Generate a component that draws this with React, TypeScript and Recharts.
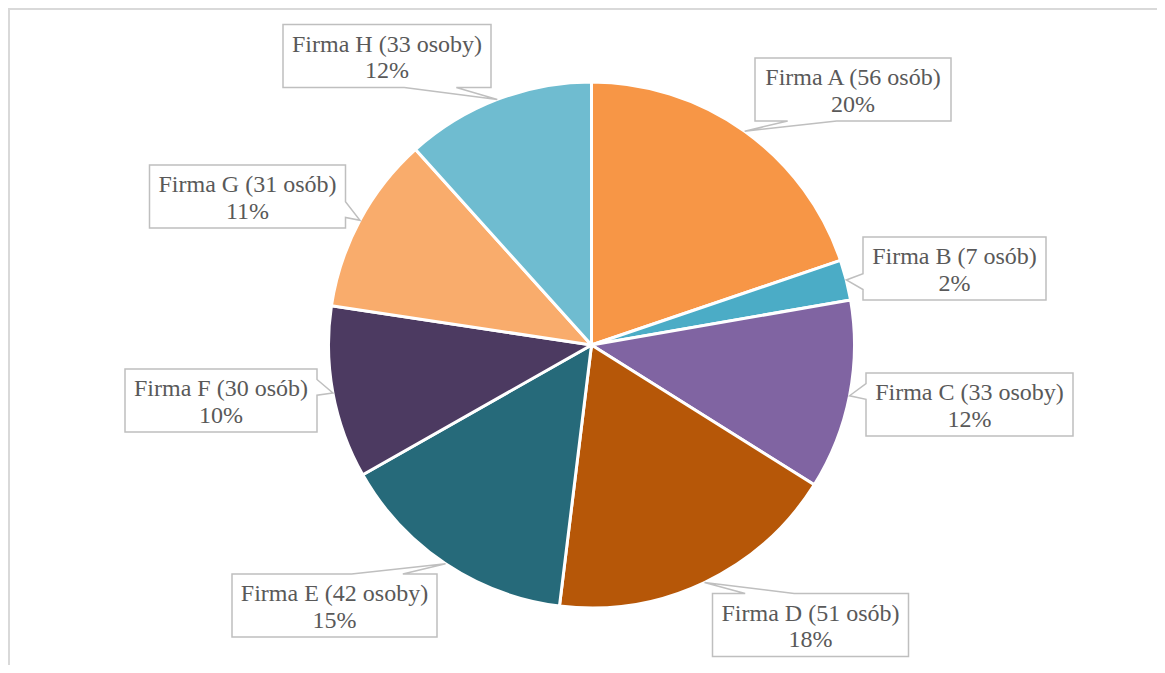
import { PieChart, Pie, Cell } from "recharts";

const NAMES = ["Firma A", "Firma B", "Firma C", "Firma D", "Firma E", "Firma F", "Firma G", "Firma H"];
const COUNTS = [56, 7, 33, 51, 42, 30, 31, 33];
const UNITS = ["osób", "osób", "osoby", "osób", "osoby", "osób", "osób", "osoby"];
const SHARES = ["20%", "2%", "12%", "18%", "15%", "10%", "11%", "12%"];

const COLORS = ["#F79646", "#4BACC6", "#8064A2", "#B65708", "#266A7A", "#4C3A61", "#F9AC6C", "#6FBCD0"];

// callout box centres, chart coordinates
const BOX_CENTERS: Array<[number, number]> = [
  [845, 81.5],
  [946.5, 260.5],
  [961.5, 396.5],
  [802.5, 617],
  [326.5, 597.5],
  [213, 392.5],
  [239.5, 188.5],
  [379, 48],
];

const FONT = '"Liberation Serif", "Times New Roman", serif';
const FONT_SIZE = 24;
const BOX_H = 63;
const PAD = 9;

const data = NAMES.map((name, i) => ({
  name,
  value: COUNTS[i],
  title: `${name} (${COUNTS[i]} ${UNITS[i]})`,
  share: SHARES[i],
}));

let ctx: CanvasRenderingContext2D | null = null;
function measure(text: string) {
  if (!ctx) {
    ctx = document.createElement("canvas").getContext("2d");
  }
  if (!ctx) return text.length * FONT_SIZE * 0.45;
  ctx.font = `${FONT_SIZE}px ${FONT}`;
  return ctx.measureText(text).width;
}

// rectangle callout with a wedge pointing at (tx, ty)
function calloutPath(l: number, t: number, w: number, h: number, tx: number, ty: number) {
  const r = l + w;
  const b = t + h;
  const dx = tx - (l + w / 2);
  const dy = ty - (t + h / 2);
  const dq = (dx * h) / w;
  if (Math.abs(dy) > Math.abs(dq)) {
    const x1 = l + (w * (dx > 0 ? 7 : 2)) / 12;
    const x2 = l + (w * (dx > 0 ? 10 : 5)) / 12;
    if (dy > 0) {
      return `M${l},${t} L${r},${t} L${r},${b} L${x2},${b} L${tx},${ty} L${x1},${b} L${l},${b} Z`;
    }
    return `M${l},${t} L${x1},${t} L${tx},${ty} L${x2},${t} L${r},${t} L${r},${b} L${l},${b} Z`;
  }
  const y1 = t + (h * (dy > 0 ? 7 : 2)) / 12;
  const y2 = t + (h * (dy > 0 ? 10 : 5)) / 12;
  if (dx > 0) {
    return `M${l},${t} L${r},${t} L${r},${y1} L${tx},${ty} L${r},${y2} L${r},${b} L${l},${b} Z`;
  }
  return `M${l},${t} L${r},${t} L${r},${b} L${l},${b} L${l},${y2} L${tx},${ty} L${l},${y1} Z`;
}

const RAD = Math.PI / 180;

function renderCallout(props: any) {
  const { cx, cy, midAngle, outerRadius, index } = props;
  const item = data[index];
  const tx = cx + outerRadius * Math.cos(-midAngle * RAD);
  const ty = cy + outerRadius * Math.sin(-midAngle * RAD);
  const [bx, by] = BOX_CENTERS[index];
  const w = Math.round(measure(item.title) + PAD * 2);
  const l = bx - w / 2;
  const t = by - BOX_H / 2;
  return (
    <g key={`callout-${index}`}>
      <path
        d={calloutPath(l, t, w, BOX_H, tx, ty)}
        fill="#ffffff"
        stroke="#bfbfbf"
        strokeWidth={1.5}
        strokeLinejoin="miter"
      />
      <text
        x={bx}
        y={by - 4.5}
        textAnchor="middle"
        fill="#595959"
        fontFamily={FONT}
        fontSize={FONT_SIZE}
      >
        {item.title}
      </text>
      <text
        x={bx}
        y={by + 22}
        textAnchor="middle"
        fill="#595959"
        fontFamily={FONT}
        fontSize={FONT_SIZE}
      >
        {item.share}
      </text>
    </g>
  );
}

export default function App() {
  return (
    <div
      style={{
        position: "relative",
        width: 1157,
        height: 665,
        marginBottom: -8,
        overflow: "hidden",
        background: "#ffffff",
      }}
    >
      <div
        style={{
          position: "absolute",
          left: 0,
          top: 0,
          width: 1157,
          height: 665,
          boxSizing: "border-box",
          borderTop: "2px solid #d9d9d9",
          borderLeft: "2px solid #d9d9d9",
        }}
      />
      <div style={{ position: "absolute", left: 0, top: 0 }}>
        <PieChart width={1157} height={665} margin={{ top: 0, right: 0, bottom: 0, left: 0 }}>
          <Pie
            data={data}
            dataKey="value"
            nameKey="name"
            cx={583.5}
            cy={337}
            outerRadius={263}
            startAngle={90}
            endAngle={-270}
            stroke="#ffffff"
            strokeWidth={3}
            labelLine={false}
            label={renderCallout}
            isAnimationActive={false}
          >
            {data.map((entry, index) => (
              <Cell key={`cell-${entry.name}`} fill={COLORS[index]} />
            ))}
          </Pie>
        </PieChart>
      </div>
    </div>
  );
}
